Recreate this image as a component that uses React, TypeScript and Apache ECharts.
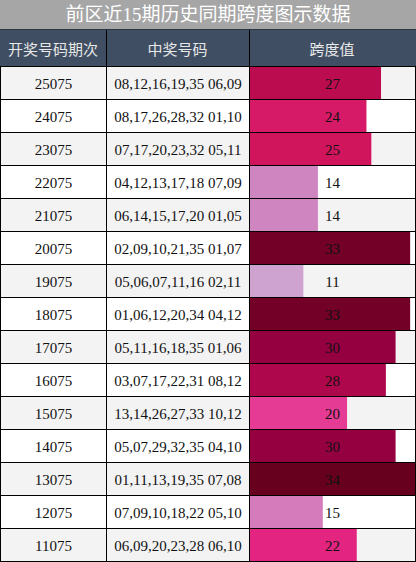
import React, { useEffect, useRef } from "react";
import * as echarts from "echarts";

const title = "前区近15期历史同期跨度图示数据";
const headers = ["开奖号码期次", "中奖号码", "跨度值"];
const periods = ["25075", "24075", "23075", "22075", "21075", "20075", "19075", "18075", "17075", "16075", "15075", "14075", "13075", "12075", "11075"];
const numbers = [
  "08,12,16,19,35 06,09",
  "08,17,26,28,32 01,10",
  "07,17,20,23,32 05,11",
  "04,12,13,17,18 07,09",
  "06,14,15,17,20 01,05",
  "02,09,10,21,35 01,07",
  "05,06,07,11,16 02,11",
  "01,06,12,20,34 04,12",
  "05,11,16,18,35 01,06",
  "03,07,17,22,31 08,12",
  "13,14,26,27,33 10,12",
  "05,07,29,32,35 04,10",
  "01,11,13,19,35 07,08",
  "07,09,10,18,22 05,10",
  "06,09,20,23,28 06,10",
];
const spans = [27, 24, 25, 14, 14, 33, 11, 33, 30, 28, 20, 30, 34, 15, 22];
const palette = ["#f7f4f9", "#e7e1ef", "#d4b9da", "#c994c7", "#df65b0", "#e7298a", "#ce1256", "#980043", "#67001f"];

const W = 416;
const H = 562;
const colX = [0, 106, 249, 415];
const TITLE_H = 29;
const HEAD_BOTTOM = 66;
const SERIF = "'Liberation Serif', 'Times New Roman', serif";
const CJK = "'Liberation Serif', 'Noto Sans CJK SC', sans-serif";

export default function App() {
  const ref = useRef<HTMLDivElement>(null);
  useEffect(() => {
    document.body.style.margin = "0";
    const chart = echarts.init(ref.current!, null, { renderer: "svg" });
    const rowData = periods.map((_, i) => [0, i]);
    const barData = spans.map((v, i) => [v, i]);

    const graphic: any[] = [
      { type: "rect", shape: { x: 0, y: 0, width: W, height: TITLE_H }, style: { fill: "#a6a6a6" } },
      {
        type: "text", x: W / 2, y: TITLE_H / 2,
        style: { text: title, fill: "#ffffff", font: `19px ${CJK}`, align: "center", verticalAlign: "middle" },
      },
      { type: "rect", shape: { x: 0, y: TITLE_H, width: W, height: HEAD_BOTTOM - TITLE_H }, style: { fill: "#3f4e62" } },
    ];
    headers.forEach((h, c) => {
      graphic.push({
        type: "text", x: (colX[c] + colX[c + 1]) / 2, y: (TITLE_H + HEAD_BOTTOM) / 2 + 1,
        style: { text: h, fill: "#e8e8e8", font: `15px 'Noto Sans CJK SC', sans-serif`, align: "center", verticalAlign: "middle" },
      });
    });
    [colX[1], colX[2]].forEach((x) => {
      graphic.push({ type: "line", shape: { x1: x + 0.5, y1: TITLE_H, x2: x + 0.5, y2: HEAD_BOTTOM }, style: { stroke: "#000", lineWidth: 1 } });
    });
    graphic.push({ type: "line", shape: { x1: 0, y1: TITLE_H + 0.5, x2: W, y2: TITLE_H + 0.5 }, style: { stroke: "#2b3645", lineWidth: 1 } });

    chart.setOption({
      animation: false,
      graphic,
      grid: { left: colX[2] + 1, top: HEAD_BOTTOM, width: colX[3] - colX[2] - 1, height: H - 1 - HEAD_BOTTOM, containLabel: false },
      xAxis: { type: "value", min: 0, max: 34, show: false },
      yAxis: { type: "category", data: periods, inverse: true, show: false },
      visualMap: { show: false, type: "continuous", min: 0, max: 34, dimension: 0, seriesIndex: 1, inRange: { color: palette } },
      series: [
        {
          type: "custom",
          z: 1,
          clip: false,
          data: rowData,
          renderItem: (params: any, api: any) => {
            const i = api.value(1);
            const c = api.coord([0, i]);
            const h = api.size([0, 1])[1];
            return {
              type: "rect",
              shape: { x: 0, y: c[1] - h / 2, width: W, height: h },
              style: { fill: i % 2 === 0 ? "#f3f3f3" : "#ffffff" },
            };
          },
        },
        {
          type: "bar",
          z: 2,
          barWidth: "100%",
          data: barData,
          encode: { x: 0, y: 1 },
        },
        {
          type: "custom",
          z: 5,
          clip: false,
          data: rowData,
          renderItem: (params: any, api: any) => {
            const i = api.value(1);
            const c = api.coord([0, i]);
            const h = api.size([0, 1])[1];
            const top = Math.round(c[1] - h / 2);
            const cy = c[1] + 1;
            const children: any[] = [
              { type: "line", shape: { x1: 0, y1: top + 0.5, x2: W, y2: top + 0.5 }, style: { stroke: "#000", lineWidth: 1 } },
              { type: "line", shape: { x1: 0, y1: top + h + 0.5, x2: W, y2: top + h + 0.5 }, style: { stroke: "#000", lineWidth: 1 } },
            ];
            colX.forEach((x) => {
              children.push({ type: "line", shape: { x1: x + 0.5, y1: top, x2: x + 0.5, y2: top + h + 1 }, style: { stroke: "#000", lineWidth: 1 } });
            });
            const texts = [periods[i], numbers[i], String(spans[i])];
            texts.forEach((t, k) => {
              children.push({
                type: "text",
                x: (colX[k] + colX[k + 1]) / 2 + 0.5,
                y: cy,
                style: { text: t, fill: "#111111", font: `15px ${SERIF}`, align: "center", verticalAlign: "middle" },
              });
            });
            return { type: "group", children };
          },
        },
      ],
    });
    return () => chart.dispose();
  }, []);
  return <div ref={ref} style={{ width: W, height: H, position: "absolute", left: 0, top: 0 }} />;
}
